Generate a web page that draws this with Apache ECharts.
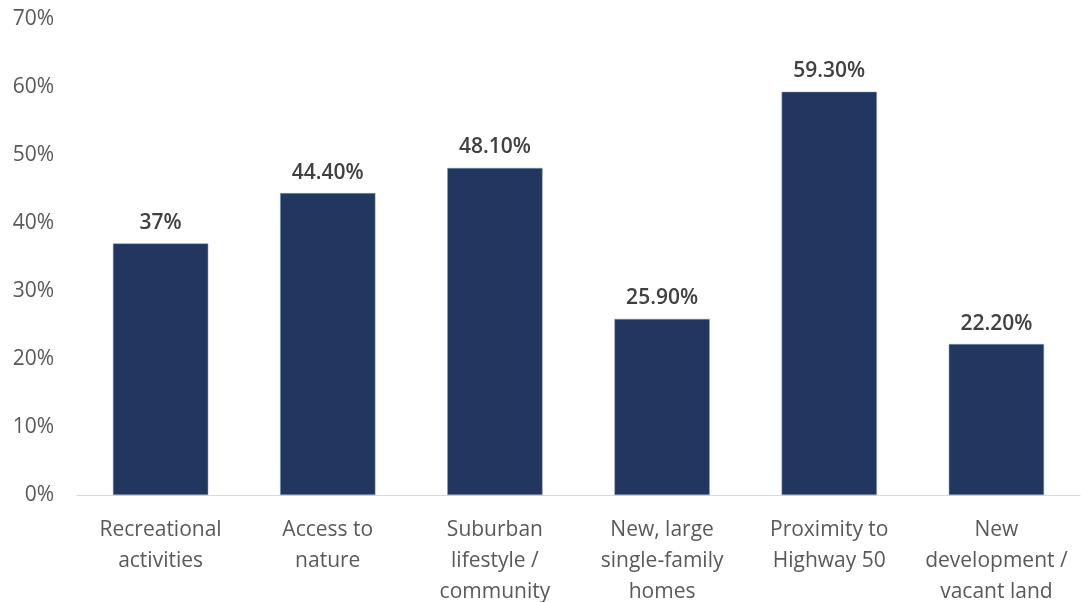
<!DOCTYPE html>
<html>
<head>
<meta charset="utf-8">
<style>
  html, body { margin: 0; padding: 0; background: #fff; }
  #chart { width: 1081px; height: 602px; }
</style>
<script src="https://cdn.jsdelivr.net/npm/echarts@6/dist/echarts.min.js"></script>
</head>
<body>
<div id="chart"></div>
<script>
"use strict";

const categories = [
  "Recreational\nactivities",
  "Access to\nnature",
  "Suburban\nlifestyle /\ncommunity",
  "New, large\nsingle-family\nhomes",
  "Proximity to\nHighway 50",
  "New\ndevelopment /\nvacant land",
];
const values = [37, 44.4, 48.1, 25.9, 59.3, 22.2];
const valueLabels = ["37%", "44.40%", "48.10%", "25.90%", "59.30%", "22.20%"];

const FONT = "'Open Sans', Lato, sans-serif";

const chart = echarts.init(document.getElementById("chart"));
chart.setOption({
  animation: false,
  grid: { left: 77, right: 1, top: 19, bottom: 107, outerBoundsMode: "none" },
  xAxis: {
    type: "category",
    data: categories,
    axisLine: { lineStyle: { color: "#d9d9d9", width: 1 } },
    axisTick: { show: false },
    axisLabel: {
      color: "#595959", fontSize: 21, fontFamily: FONT,
      lineHeight: 31, margin: 20, interval: 0,
    },
  },
  yAxis: {
    type: "value",
    min: 0, max: 70, interval: 10,
    splitLine: { show: false },
    axisLine: { show: false },
    axisLabel: {
      color: "#595959", fontSize: 21, fontFamily: FONT,
      margin: 23, formatter: (v) => v + "%",
    },
  },
  series: [{
    type: "bar",
    data: values,
    barWidth: "57%",
    itemStyle: { color: "#213760", borderColor: "#8a9ab5", borderWidth: 0.5 },
    label: {
      show: true, position: "top", distance: 10,
      color: "#404040", fontSize: 21, fontWeight: "600", fontFamily: FONT,
      formatter: (p) => valueLabels[p.dataIndex],
    },
  }],
});
</script>
</body>
</html>
